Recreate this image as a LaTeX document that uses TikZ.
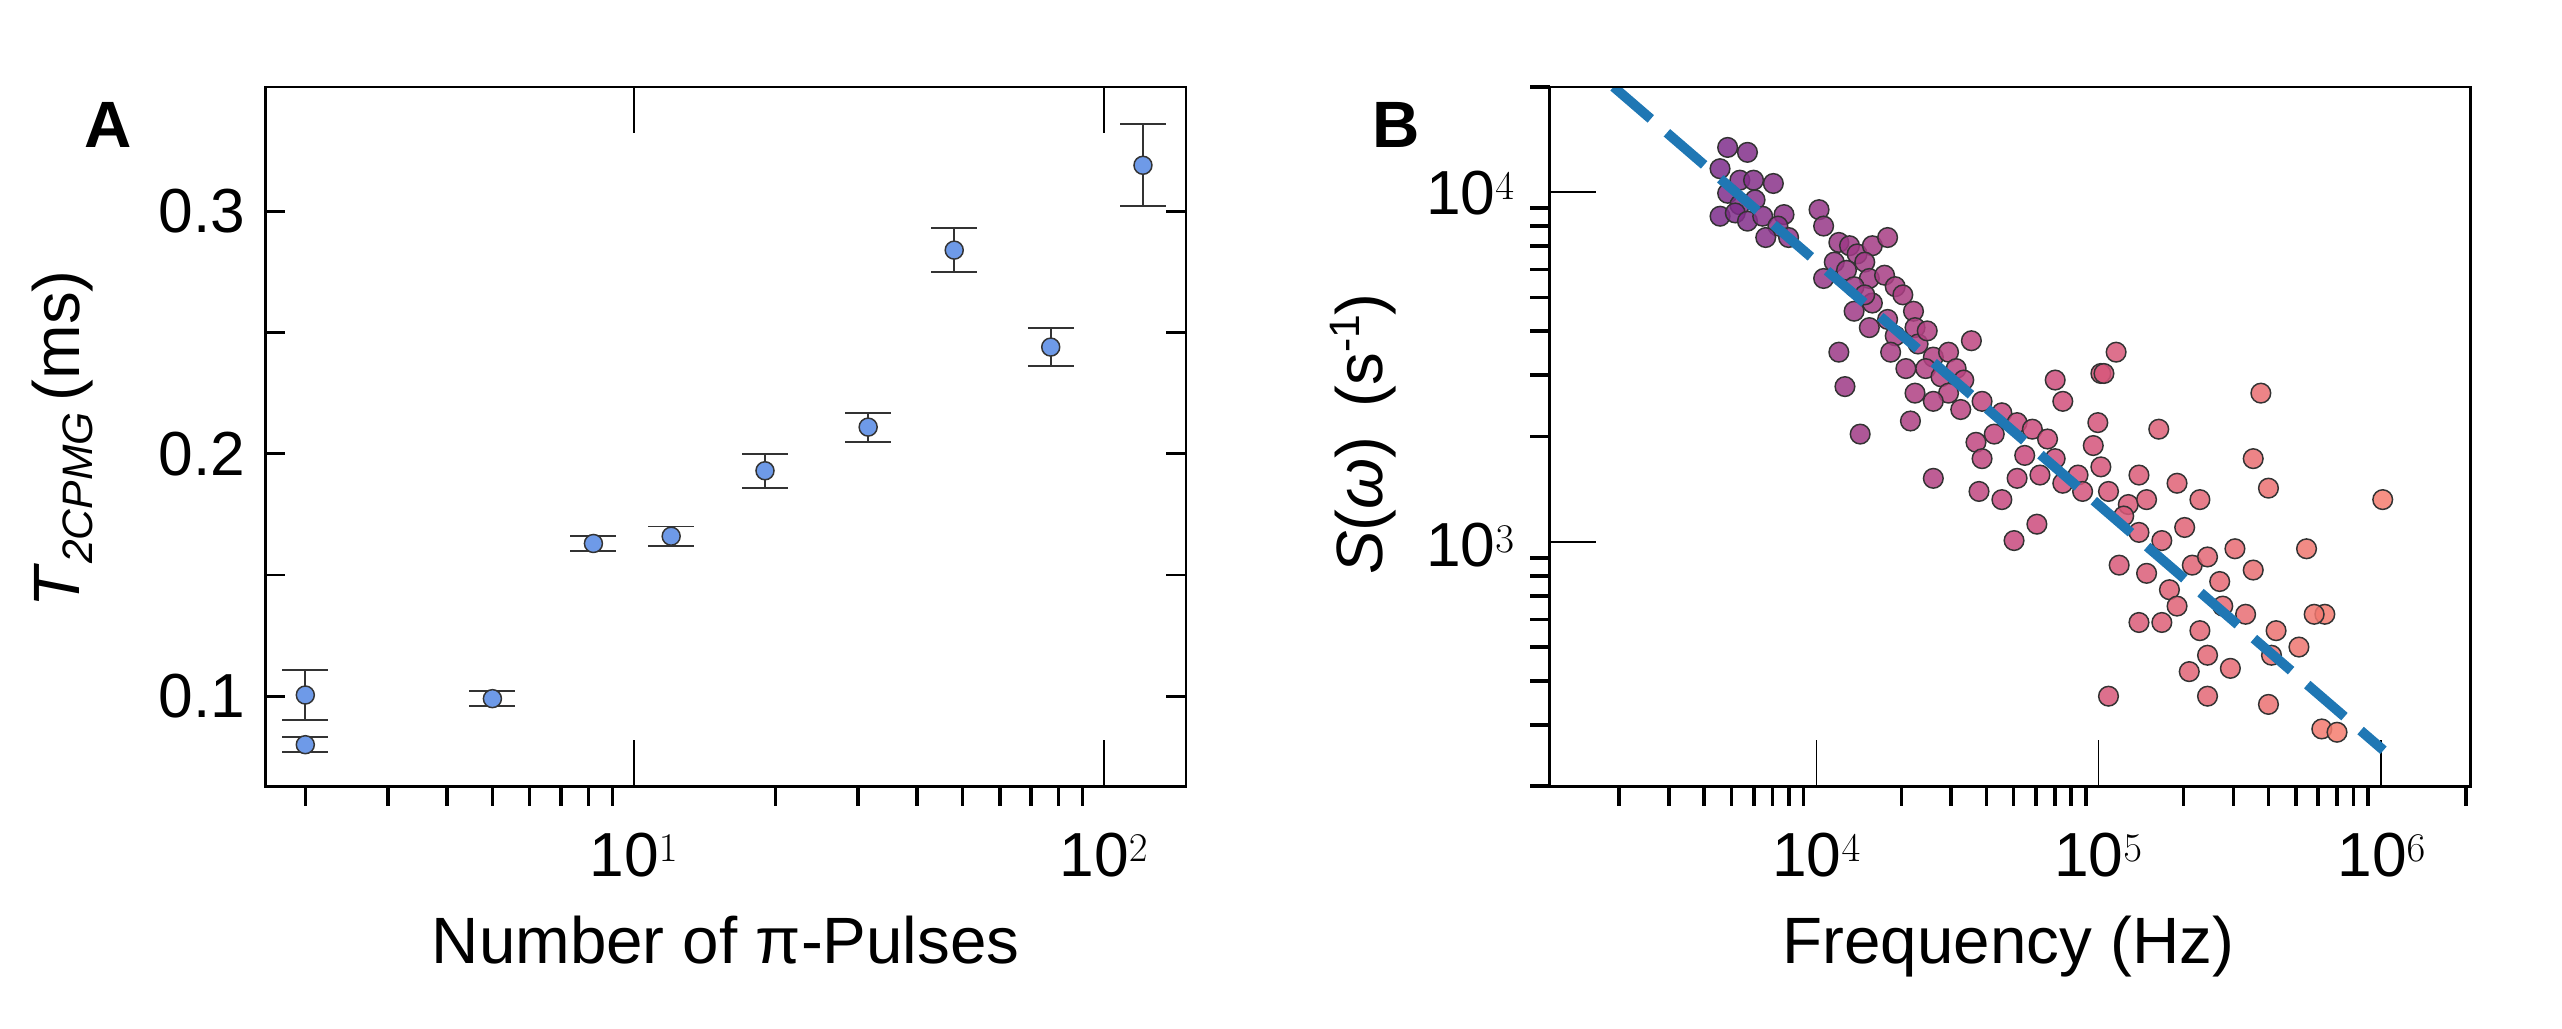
\documentclass[tikz,border=0pt]{standalone}
\usepackage{fontspec}
\setmainfont{Liberation Sans}
\definecolor{ptblue}{HTML}{6E9AE8}
\definecolor{edge}{HTML}{333333}
\definecolor{fitblue}{HTML}{1F77B4}
\definecolor{cpur}{RGB}{125,45,140}
\definecolor{cpink}{RGB}{205,75,125}
\definecolor{csal}{RGB}{245,125,110}
\tikzset{
  ax/.style={line width=1.6pt, line cap=rect},
  majtick/.style={line width=1pt},
  mintick/.style={line width=2.2pt},
  ticklab/.style={font=\fontsize{38}{42}\selectfont, inner sep=0pt},
  axlab/.style={font=\fontsize{40}{44}\selectfont, inner sep=0pt},
  panel/.style={font=\fontsize{40}{44}\selectfont\bfseries, inner sep=0pt},
  errbar/.style={edge, line width=1.2pt},
  apt/.style={circle, fill=ptblue, draw=edge, line width=0.9pt, minimum size=11pt, inner sep=0pt},
  spt/.style={circle, draw=edge, line width=0.9pt, fill opacity=0.85, minimum size=12pt, inner sep=0pt},
}
\begin{document}
\begin{tikzpicture}[x=1pt,y=-1pt]
\useasboundingbox (0,0) rectangle (1564,628);
% ================= Panel A =================
\def\AL{162}\def\AR{724}\def\AT{53}\def\AB{480}
\foreach \v in {0.1,0.15,0.2,0.25,0.3}{
  \draw[majtick, line width=1.6pt] (\AL,{425-1480*(\v-0.1)}) -- ++(12,0);
  \draw[majtick, line width=1.6pt] (\AR,{425-1480*(\v-0.1)}) -- ++(-12,0);
}
\foreach \e in {1,2}{
  \draw[majtick] ({387+287*(\e-1)},\AB) -- ++(0,-28);
  \draw[majtick] ({387+287*(\e-1)},\AT) -- ++(0,28);
}
\foreach \n in {2,3,...,9,20,30,40,50,60,70,80,90}{
  \draw[mintick] ({387+287*(log10(\n)-1)},\AB) -- ++(0,12);
}
\draw[ax] (\AL,\AT) rectangle (\AR,\AB);
\node[ticklab, anchor=east] (a03) at (150,129) {0.3};
\node[ticklab, anchor=east] (a02) at (150,277) {0.2};
\node[ticklab, anchor=east] (a01) at (150,425) {0.1};
\node[ticklab, anchor=base] (a10) at (387,535) {10$^{\fontsize{24}{26}\selectfont 1}$};
\node[ticklab, anchor=base] (a100) at (674,535) {10$^{\fontsize{24}{26}\selectfont 2}$};
\node[axlab, anchor=base] (axA) at (443,588) {Number of π-Pulses};
\node[axlab, rotate=90] (ayA) at (38,268) {\textit{T}{\fontsize{26}{28}\selectfont\raisebox{-8pt}{\textit{2CPMG}}}\,(ms)};
\node[panel] (pA) at (66,76) {A};
\foreach \n/\v/\er [count=\i] in {2/0.1005/0.0105, 2/0.080/0.003, 5/0.099/0.003, 8.2/0.163/0.003, 12/0.166/0.004, 19/0.193/0.007, 31.5/0.211/0.006, 48/0.284/0.009, 77/0.244/0.008, 121/0.319/0.017}{
  \pgfmathsetmacro\xx{387+287*(log10(\n)-1)}
  \pgfmathsetmacro\yy{425-1480*(\v-0.1)}
  \pgfmathsetmacro\yh{425-1480*(\v+\er-0.1)}
  \pgfmathsetmacro\yl{425-1480*(\v-\er-0.1)}
  \draw[errbar] (\xx,\yh) -- (\xx,\yl);
  \draw[errbar] (\xx-14,\yh) -- (\xx+14,\yh);
  \draw[errbar] (\xx-14,\yl) -- (\xx+14,\yl);
  \node[apt] (ad\i) at (\xx,\yy) {};
}
% ================= Panel B =================
\def\BL{946}\def\BR{1508}\def\BT{53}\def\BB{480}
\foreach \e in {4,5,6}{
  \draw[majtick] ({946+(\e-3.055)*172.3},\BB) -- ++(0,-28);
}
\foreach \m in {2,...,9}{
  \foreach \e in {3,4,5,6}{
    \pgfmathsetmacro\lx{\e+log10(\m)}
    \ifdim\lx pt<6.32pt
      \draw[mintick] ({946+(\lx-3.055)*172.3},\BB) -- ++(0,12);
    \fi
  }
}
\foreach \e in {3,4}{
  \draw[majtick] (\BL,{53+(4.301-\e)*213.5}) -- ++(28,0);
}
\foreach \m in {2,...,9}{
  \foreach \e in {2,3,4}{
    \pgfmathsetmacro\ly{\e+log10(\m)}
    \ifdim\ly pt>2.29pt \ifdim\ly pt<4.31pt
      \draw[mintick] (\BL,{53+(4.301-\ly)*213.5}) -- ++(-12,0);
    \fi\fi
  }
}
\node[ticklab, anchor=east] (b4) at (925,118) {10$^{\fontsize{24}{26}\selectfont 4}$};
\node[ticklab, anchor=east] (b3) at (925,333) {10$^{\fontsize{24}{26}\selectfont 3}$};
\node[ticklab, anchor=base] (bx4) at (1109,535) {10$^{\fontsize{24}{26}\selectfont 4}$};
\node[ticklab, anchor=base] (bx5) at (1281,535) {10$^{\fontsize{24}{26}\selectfont 5}$};
\node[ticklab, anchor=base] (bx6) at (1454,535) {10$^{\fontsize{24}{26}\selectfont 6}$};
\node[axlab, anchor=base] (axB) at (1226,588) {Frequency (Hz)};
\node[axlab, rotate=90] (ayB) at (832,265) {\textit{S}(\textit{ω})\ \,(s{\fontsize{26}{28}\selectfont\raisebox{14pt}{-1}})};
\node[panel] (pB) at (852,76) {B};
\begin{scope}
\clip (\BL,\BT) rectangle (\BR,\BB);
\foreach \px/\py [count=\i] in {
1055/90,1068/93,1050/103,1063/110,1072/110,1085/112,1055/118,1063/125,1073/122,1050/132,1060/130,1068/135,1078/132,1092/131,1088/138,1080/145,1095/145,1115/128,1118/138,1128/148,1135/150,1140/155,1150/150,1160/145,1145/160,1125/160,1133/165,1148/170,1158/168,1165/175,1138/175,1150/185,1170/180,1177/190,1160/195,1145/180,1118/170,1138/190,1148/200,1165/205,1178/200,1180/210,1186/202,1190/218,1200/215,1215/208,1128/215,1132/236,1162/215,1172/225,1185/225,1195/230,1205/225,1210/232,1200/240,1178/240,1190/245,1208/250,1222/245,1235/252,1245/258,1230/265,1218/270,1255/262,1265/268,1250/278,1270/280,1260/290,1275/295,1285/290,1295/272,1300/285,1288/300,1305/300,1318/308,1330/305,1315/315,1340/330,1355/322,1325/325,1298/258,1275/245,1270/232,1300/228,1190/292,1243/330,1258/320,1235/305,1245/292,1222/280,1142/265,1175/257,1220/300,1312/345,1330/350,1345/360,1360/345,1370/340,1388/335,1378/355,1325/380,1340/380,1350/370,1365/385,1380/370,1395/375,1400/348,1415/385,1370/400,1385/408,1412/400,1430/395,1447/375,1435/335,1440/375,1358/410,1305/425,1370/425,1410/430,1445/445,1455/447,1485/305,1302/228,1310/215,1400/280,1410/298,1325/290,1338/262,1405/240,1350/295,1365/305}{
  \pgfmathsetmacro\qx{\px>1050 ? 1050+(\px-1050)*0.93 : \px}
  \pgfmathtruncatemacro\tq{max(0,min(100,(\qx-1050)/3.8))}
  \ifnum\tq<50
    \pgfmathtruncatemacro\ww{\tq*2}
    \colorlet{ptc}{cpink!\ww!cpur}
  \else
    \pgfmathtruncatemacro\ww{(\tq-50)*2}
    \colorlet{ptc}{csal!\ww!cpink}
  \fi
  \node[spt, fill=ptc] (s\i) at (\qx,\py) {};
}
\coordinate (fitA) at (985,53);
\coordinate (fitB) at (1455,458);
\draw[fitblue, line width=6pt, dash pattern=on 30pt off 13pt] (fitA) -- (fitB);
\end{scope}
\draw[ax] (\BL,\BT) rectangle (\BR,\BB);
\end{tikzpicture}
\end{document}
